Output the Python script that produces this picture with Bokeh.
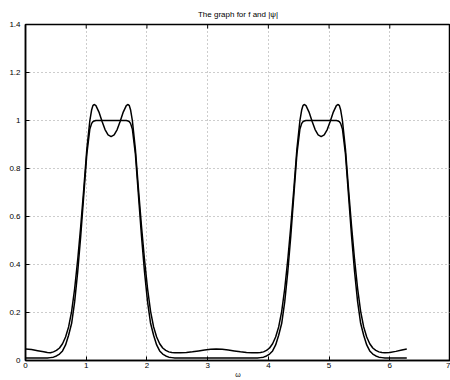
from bokeh.plotting import figure
from bokeh.models import FixedTicker, Range1d
from bokeh.embed import file_html
from bokeh.resources import INLINE

omega = [0, 0.1, 0.2, 0.3,
         0.36, 0.41, 0.46, 0.51, 0.56, 0.61, 0.66, 0.71, 0.76, 0.81, 0.86, 0.91,
         0.96, 1.01, 1.06, 1.09, 1.11, 1.13, 1.16, 1.21, 1.26, 1.31, 1.36, 1.41,
         1.46, 1.51, 1.56, 1.61, 1.66, 1.69, 1.71, 1.73, 1.76, 1.81, 1.86, 1.91,
         1.96, 2.01, 2.06, 2.11, 2.16, 2.21, 2.26, 2.31, 2.36, 2.41, 2.46,
         2.55, 2.65, 2.75, 2.85, 2.95, 3.05, 3.14, 3.24, 3.34, 3.44, 3.54, 3.64, 3.73,
         3.82, 3.87, 3.92, 3.97, 4.02, 4.07, 4.12, 4.17, 4.22, 4.27, 4.32, 4.37,
         4.42, 4.47, 4.52, 4.55, 4.57, 4.59, 4.62, 4.67, 4.72, 4.77, 4.82, 4.87,
         4.92, 4.97, 5.02, 5.07, 5.12, 5.15, 5.17, 5.19, 5.22, 5.27, 5.32, 5.37,
         5.42, 5.47, 5.52, 5.57, 5.62, 5.67, 5.72, 5.77, 5.82, 5.87, 5.92,
         6.0, 6.1, 6.2, 6.28]

psi_abs = [0.048, 0.046, 0.041, 0.036,
           0.033, 0.032, 0.036, 0.042, 0.052, 0.070, 0.098, 0.140, 0.205, 0.300, 0.420, 0.560,
           0.715, 0.880, 1.000, 1.045, 1.062, 1.067, 1.062, 1.035, 0.997, 0.962, 0.940, 0.933,
           0.940, 0.962, 0.997, 1.035, 1.062, 1.067, 1.062, 1.045, 1.000, 0.880, 0.715, 0.560,
           0.420, 0.300, 0.205, 0.140, 0.098, 0.070, 0.052, 0.042, 0.036, 0.033, 0.032,
           0.032, 0.033, 0.036, 0.040, 0.044, 0.047, 0.048, 0.047, 0.044, 0.040, 0.036, 0.033, 0.032,
           0.032, 0.033, 0.036, 0.042, 0.052, 0.070, 0.098, 0.140, 0.205, 0.300, 0.420, 0.560,
           0.715, 0.880, 1.000, 1.045, 1.062, 1.067, 1.062, 1.035, 0.997, 0.962, 0.940, 0.933,
           0.940, 0.962, 0.997, 1.035, 1.062, 1.067, 1.062, 1.045, 1.000, 0.880, 0.715, 0.560,
           0.420, 0.300, 0.205, 0.140, 0.098, 0.070, 0.052, 0.042, 0.036, 0.033, 0.032,
           0.033, 0.038, 0.044, 0.048]

f_vals = [0.010, 0.010, 0.010, 0.010,
          0.010, 0.012, 0.014, 0.019, 0.027, 0.040, 0.065, 0.105, 0.155, 0.245, 0.370, 0.520,
          0.690, 0.860, 0.965, 0.988, 0.995, 0.998, 1.000, 1.000, 1.000, 1.000, 1.000, 1.000,
          1.000, 1.000, 1.000, 1.000, 1.000, 0.998, 0.995, 0.988, 0.965, 0.860, 0.690, 0.520,
          0.370, 0.245, 0.155, 0.105, 0.065, 0.040, 0.027, 0.019, 0.014, 0.012, 0.010,
          0.010, 0.010, 0.010, 0.010, 0.010, 0.010, 0.010, 0.010, 0.010, 0.010, 0.010, 0.010, 0.010,
          0.010, 0.012, 0.014, 0.019, 0.027, 0.040, 0.065, 0.105, 0.155, 0.245, 0.370, 0.520,
          0.690, 0.860, 0.965, 0.988, 0.995, 0.998, 1.000, 1.000, 1.000, 1.000, 1.000, 1.000,
          1.000, 1.000, 1.000, 1.000, 1.000, 0.998, 0.995, 0.988, 0.965, 0.860, 0.690, 0.520,
          0.370, 0.245, 0.155, 0.105, 0.065, 0.040, 0.027, 0.019, 0.014, 0.012, 0.010,
          0.010, 0.010, 0.010, 0.010]

x_ticks = [0, 1, 2, 3, 4, 5, 6, 7]
y_ticks = [0, 0.2, 0.4, 0.6, 0.8, 1.0, 1.2, 1.4]
title_text = "The graph for f and |\u03c8|"
x_label = "\u03c9"

FONT = "Liberation Sans"
Y_MAX = y_ticks[-1]

p = figure(width=450, height=380, output_backend="svg", toolbar_location=None,
           x_range=Range1d(x_ticks[0], x_ticks[-1]), y_range=Range1d(y_ticks[0], Y_MAX),
           min_border_left=25, min_border_right=0, min_border_top=24, min_border_bottom=0,
           background_fill_color="white", border_fill_color="white")
p.outline_line_color = "black"
p.outline_line_width = 1.5

p.title.text = title_text
p.title.text_font = FONT
p.title.text_font_size = "8px"
p.title.text_font_style = "normal"
p.title.text_color = "black"
p.title.align = "center"
p.title.standoff = 12

p.xaxis.ticker = FixedTicker(ticks=x_ticks)
p.yaxis.ticker = FixedTicker(ticks=y_ticks)

for ax in (p.xaxis[0], p.yaxis[0]):
    ax.major_tick_in = 4
    ax.major_tick_out = 0
    ax.minor_tick_in = 0
    ax.minor_tick_out = 0
    ax.axis_line_width = 1.5
    ax.major_tick_line_width = 1
    ax.major_label_text_font = FONT
    ax.major_label_text_font_size = "8px"
    ax.major_label_text_color = "black"
    ax.axis_line_color = "black"

p.yaxis.major_label_standoff = 5
p.xaxis.major_label_standoff = 2
p.xaxis.axis_label = x_label
p.xaxis.axis_label_text_font = FONT
p.xaxis.axis_label_text_font_size = "7px"
p.xaxis.axis_label_text_font_style = "normal"
p.xaxis.axis_label_text_color = "black"
p.xaxis.axis_label_standoff = 0

p.xgrid.grid_line_color = "#9a9a9a"
p.ygrid.grid_line_color = "#9a9a9a"
p.xgrid.grid_line_dash = "1 3"
p.ygrid.grid_line_dash = "1 3"
p.xgrid.grid_line_width = 1
p.ygrid.grid_line_width = 1

# inward tick marks along the top edge of the box
p.scatter(x_ticks, [Y_MAX] * len(x_ticks), marker="dash", size=8, angle=1.5708,
          line_color="black", line_width=1)

p.line(omega, f_vals, line_color="black", line_width=1.5)
p.line(omega, psi_abs, line_color="black", line_width=1.5)

open("out.html", "w").write(file_html(p, INLINE))
